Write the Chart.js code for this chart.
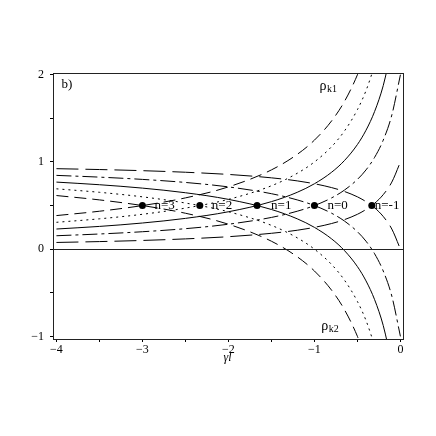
<!DOCTYPE html>
<html>
<head>
<meta charset="utf-8">
<script src="https://cdn.jsdelivr.net/npm/chart.js@4.4.0/dist/chart.umd.min.js"></script>
<style>
  html, body { margin: 0; padding: 0; background: #fff; }
  #wrap { width: 436px; height: 436px; }
</style>
</head>
<body>
<div id="wrap"><canvas id="chart" width="436" height="436"></canvas></div>
<script>
// sample positions along the gamma*l axis
const gammaL = [-4, -3.5, -3, -2.5, -2, -1.5, -1.2, -1, -0.8, -0.65, -0.5, -0.4, -0.3, -0.2, -0.1, 0];

// rho_k1 branches (rising towards the right), one per n
const rhoK1_nm1 = [0.077, 0.087, 0.100, 0.118, 0.143, 0.182, 0.217, 0.250, 0.294, 0.339, 0.400, 0.455, 0.526, 0.625, 0.769, 1.000];
const rhoK1_n0  = [0.154, 0.174, 0.200, 0.235, 0.286, 0.364, 0.435, 0.500, 0.588, 0.678, 0.800, 0.909, 1.053, 1.250, 1.538, 2.000];
const rhoK1_n1  = [0.231, 0.261, 0.300, 0.353, 0.429, 0.545, 0.652, 0.750, 0.882, 1.017, 1.200, 1.364, 1.579, 1.875, 2.308];
const rhoK1_n2  = [0.308, 0.348, 0.400, 0.471, 0.571, 0.727, 0.870, 1.000, 1.176, 1.356, 1.600, 1.818, 2.105];
const rhoK1_n3  = [0.385, 0.435, 0.500, 0.588, 0.714, 0.909, 1.087, 1.250, 1.471, 1.695, 2.000, 2.273];

// rho_k2 branches (falling towards the right)
const rhoK2_nm1 = [0.923, 0.913, 0.900, 0.882, 0.857, 0.818, 0.783, 0.750, 0.706, 0.661, 0.600, 0.545, 0.474, 0.375, 0.231, 0.000];
const rhoK2_n0  = [0.846, 0.826, 0.800, 0.765, 0.714, 0.636, 0.565, 0.500, 0.412, 0.322, 0.200, 0.091, -0.053, -0.250, -0.538, -1.000];
const rhoK2_n1  = [0.769, 0.739, 0.700, 0.647, 0.571, 0.455, 0.348, 0.250, 0.118, -0.017, -0.200, -0.364, -0.579, -0.875, -1.308];
const rhoK2_n2  = [0.692, 0.652, 0.600, 0.529, 0.429, 0.273, 0.130, 0.000, -0.176, -0.356, -0.600, -0.818, -1.105];
const rhoK2_n3  = [0.615, 0.565, 0.500, 0.412, 0.286, 0.091, -0.087, -0.250, -0.471, -0.695, -1.000, -1.273];

// crossing points of each pair
const crossX = [-3.0, -2.333, -1.667, -1.0, -0.333];
const crossY = [0.5, 0.5, 0.5, 0.5, 0.5];
const crossLabels = ['n=3', 'n=2', 'n=1', 'n=0', 'n=-1'];

// axis ticks
const xTicks = [-4, -3.5, -3, -2.5, -2, -1.5, -1, -0.5, 0];
const xTickLabels = ['\u22124', '', '\u22123', '', '\u22122', '', '\u22121', '', '0'];
const yTicks = [-1, -0.5, 0, 0.5, 1, 1.5, 2];
const yTickLabels = ['\u22121', '', '0', '', '1', '', '2'];

const SERIF = "'Liberation Serif', 'Times New Roman', serif";

// line styles, one per n
const DASH_NM1 = [22, 7];
const DASH_N0 = [15, 4, 3, 4];
const DASH_N1 = [];
const DASH_N2 = [2, 4];
const DASH_N3 = [12, 6];

function pts(ys) {
	return ys.map((y, i) => ({ x: gammaL[i], y: y }));
}

function curve(ys, dash) {
	return {
		type: 'line',
		data: pts(ys),
		borderColor: '#000',
		borderWidth: 1,
		borderDash: dash,
		pointRadius: 0,
		fill: false,
		cubicInterpolationMode: 'monotone'
	};
}

// box, zero line and the text annotations
const annotations = {
	id: 'annotations',
	afterDatasetsDraw(chart) {
		const { ctx, chartArea: a, scales: { x, y } } = chart;
		ctx.save();
		ctx.strokeStyle = '#222';
		ctx.lineWidth = 1;
		const y0 = Math.round(y.getPixelForValue(0)) + 0.5;
		ctx.beginPath();
		ctx.moveTo(a.left, y0);
		ctx.lineTo(a.right, y0);
		ctx.stroke();
		ctx.strokeRect(Math.round(a.left) + 0.5, Math.round(a.top) + 0.5,
			Math.round(a.right - a.left), Math.round(a.bottom - a.top));

		ctx.fillStyle = '#000';
		ctx.textBaseline = 'middle';
		ctx.textAlign = 'left';
		ctx.font = '13px ' + SERIF;
		const offsets = [12, 12, 14, 13, 3];
		crossLabels.forEach((t, i) => {
			ctx.fillText(t, x.getPixelForValue(crossX[i]) + offsets[i], y.getPixelForValue(crossY[i]));
		});

		ctx.textBaseline = 'alphabetic';
		ctx.font = '13px ' + SERIF;
		ctx.fillText('b)', x.getPixelForValue(-3.94), y.getPixelForValue(1.85));

		const rho = (px, py, sub) => {
			ctx.font = '14px ' + SERIF;
			ctx.fillText('\u03c1', px, py);
			const w = ctx.measureText('\u03c1').width;
			ctx.font = '10px ' + SERIF;
			ctx.fillText(sub, px + w + 0.5, py + 2);
		};
		rho(x.getPixelForValue(-0.94), y.getPixelForValue(1.82), 'k1');
		rho(x.getPixelForValue(-0.92), y.getPixelForValue(-0.93), 'k2');

		ctx.font = 'italic 12px ' + SERIF;
		ctx.textAlign = 'center';
		ctx.fillText('\u03b3l', x.getPixelForValue(-2) - 1, a.bottom + 22);
		ctx.restore();
	}
};

const tickFont = { family: SERIF, size: 12 };

new Chart(document.getElementById('chart'), {
	type: 'line',
	data: {
		datasets: [
			curve(rhoK1_nm1, DASH_NM1), curve(rhoK2_nm1, DASH_NM1),
			curve(rhoK1_n0, DASH_N0), curve(rhoK2_n0, DASH_N0),
			curve(rhoK1_n1, DASH_N1), curve(rhoK2_n1, DASH_N1),
			curve(rhoK1_n2, DASH_N2), curve(rhoK2_n2, DASH_N2),
			curve(rhoK1_n3, DASH_N3), curve(rhoK2_n3, DASH_N3),
			{
				type: 'scatter',
				data: crossX.map((v, i) => ({ x: v, y: crossY[i] })),
				showLine: false,
				pointRadius: 3.5,
				pointBackgroundColor: '#000',
				pointBorderColor: '#000',
				pointBorderWidth: 0
			}
		]
	},
	options: {
		responsive: false,
		animation: false,
		devicePixelRatio: 1,
		layout: { padding: { left: 0, top: 73, right: 33, bottom: 77 } },
		plugins: { legend: { display: false }, tooltip: { enabled: false } },
		scales: {
			x: {
				type: 'linear',
				min: -4.04,
				max: 0.03,
				afterFit: (s) => { s.height = 20; },
				afterBuildTicks: (s) => { s.ticks = xTicks.map((v) => ({ value: v })); },
				grid: { drawOnChartArea: false, drawTicks: true, tickLength: 3, color: '#000' },
				border: { display: false },
				ticks: {
					callback: (v, i) => xTickLabels[i],
					font: tickFont,
					color: '#000',
					padding: 1,
					maxRotation: 0,
					autoSkip: false
				}
			},
			y: {
				type: 'linear',
				min: -1.03,
				max: 2.02,
				afterFit: (s) => { s.width = 53; },
				afterBuildTicks: (s) => { s.ticks = yTicks.map((v) => ({ value: v })); },
				grid: { drawOnChartArea: false, drawTicks: true, tickLength: 3, color: '#000' },
				border: { display: false },
				ticks: {
					callback: (v, i) => yTickLabels[i],
					font: tickFont,
					color: '#000',
					padding: 6,
					autoSkip: false
				}
			}
		}
	},
	plugins: [annotations]
});
</script>
</body>
</html>
